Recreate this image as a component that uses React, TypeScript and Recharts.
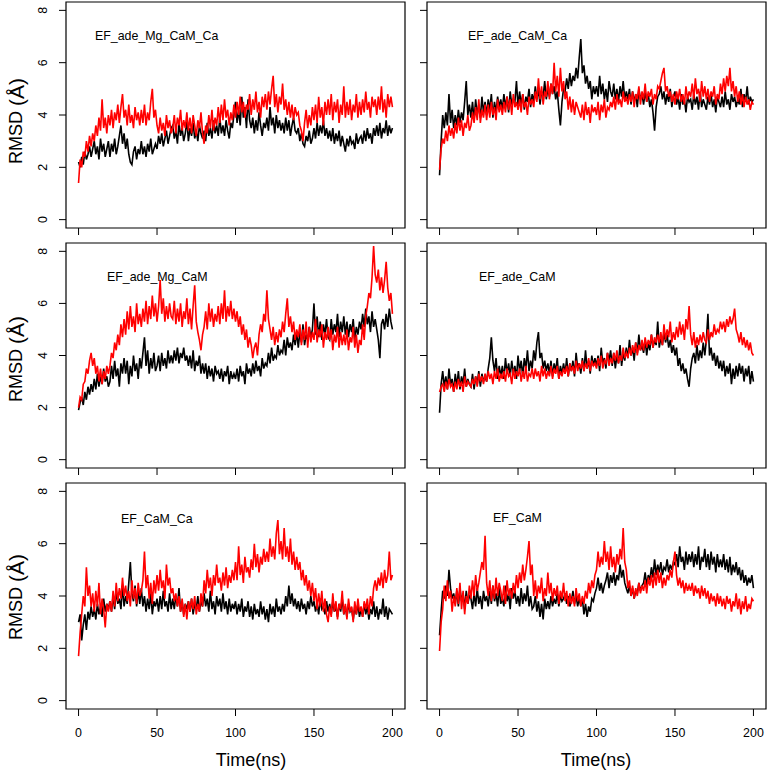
import React from 'react'
import { LineChart, Line, XAxis, YAxis, ReferenceArea } from 'recharts'

// RMSD traces, one value per ns from 0 to 200 ns
const STEP_NS = 1
const xTicks = [0, 50, 100, 150, 200]
const yTicks = [0, 2, 4, 6, 8]
const panelNames = ['EF_ade_Mg_CaM_Ca', 'EF_ade_CaM_Ca', 'EF_ade_Mg_CaM', 'EF_ade_CaM', 'EF_CaM_Ca', 'EF_CaM']

const adeMgCaMCaBlack = [
  2.2, 2.0, 2.4, 2.1, 2.6, 2.3, 2.5, 2.8, 2.4, 2.7,
  3.0, 2.5, 2.8, 2.3, 3.1, 2.6, 2.9, 2.4, 2.7, 3.0,
  2.4, 2.9, 2.6, 3.1, 2.5, 2.8, 3.2, 3.6, 2.9, 3.3,
  2.7, 3.1, 2.5, 2.2, 2.1, 2.6, 2.8, 2.3, 2.7, 2.5,
  3.0, 2.5, 2.8, 2.4, 2.9, 2.6, 3.1, 2.5, 2.7, 2.9,
  2.7, 3.2, 2.9, 3.3, 2.8, 3.1, 3.4, 2.9, 3.2, 3.5,
  3.6, 3.1, 3.4, 2.9, 3.7, 3.2, 3.5, 3.0, 3.3, 3.8,
  3.0, 3.5, 3.2, 3.7, 3.1, 3.4, 3.0, 3.6, 3.3, 3.1,
  3.4, 3.0, 3.7, 3.2, 3.5, 3.1, 3.8, 3.3, 3.6, 3.2,
  3.9, 3.3, 3.6, 3.2, 3.8, 3.4, 3.1, 3.7, 3.5, 4.0,
  4.5, 3.7, 4.2, 3.6, 4.7, 3.9, 4.3, 3.5, 4.6, 3.8,
  3.5, 3.9, 3.3, 3.8, 3.4, 4.1, 3.6, 3.2, 3.7, 3.5,
  3.9, 3.4, 4.3, 3.6, 3.9, 3.3, 4.0, 3.5, 3.8, 3.4,
  3.7, 3.3, 3.9, 3.4, 3.8, 3.2, 3.6, 3.9, 3.4, 3.3,
  3.5, 3.0, 3.3, 2.9, 2.8, 3.2, 3.0, 3.4, 2.9, 3.1,
  3.5, 3.1, 3.7, 3.2, 3.6, 3.3, 3.8, 3.2, 3.5, 3.1,
  3.4, 3.0, 3.5, 2.9, 3.3, 3.0, 3.4, 2.8, 3.2, 2.9,
  2.6, 3.1, 2.8, 3.2, 2.9, 3.0, 2.7, 3.3, 2.9, 3.1,
  3.2, 2.9, 3.4, 3.0, 3.5, 3.1, 3.3, 2.9, 3.5, 3.2,
  3.6, 3.2, 3.7, 3.1, 3.5, 3.3, 3.8, 3.2, 3.6, 3.3,
  3.5,
]
const adeMgCaMCaRed = [
  1.4, 2.3, 2.0, 2.6, 2.4, 3.0, 2.6, 3.2, 2.8, 3.3,
  3.0, 3.6, 3.2, 3.9, 3.4, 4.6, 3.5, 3.9, 3.3, 4.0,
  3.6, 4.2, 3.5, 4.1, 3.8, 4.4, 3.7, 4.3, 4.8, 3.9,
  4.2, 3.6, 4.4, 3.7, 4.0, 3.5, 4.3, 3.8, 4.1, 3.6,
  4.2, 3.7, 4.4, 3.6, 4.1, 3.8, 4.5, 5.0, 3.9, 4.2,
  3.6, 3.3, 3.9, 3.4, 3.7, 3.2, 4.0, 3.5, 3.8, 3.3,
  3.5, 4.0, 3.3, 3.9, 3.6, 4.2, 3.4, 3.8, 3.5, 4.1,
  3.4, 3.9, 3.3, 4.0, 3.6, 3.2, 3.8, 3.5, 4.1, 3.3,
  2.9, 3.6, 3.3, 4.0, 3.5, 4.2, 3.4, 3.9, 3.6, 4.3,
  3.7, 4.4, 3.8, 4.6, 3.9, 4.2, 3.6, 4.1, 3.8, 4.4,
  3.9, 4.5, 4.0, 4.7, 4.1, 4.5, 3.9, 4.4, 4.2, 4.8,
  4.0, 4.6, 4.2, 4.9, 4.1, 4.5, 3.9, 4.7, 4.3, 4.8,
  4.2, 4.9, 4.4, 5.0, 5.5, 4.3, 4.8, 4.1, 4.7, 4.4,
  5.2, 4.2, 4.6, 4.0, 4.5, 3.9, 4.4, 3.8, 4.3, 4.0,
  4.1, 3.6, 3.4, 3.0, 3.7, 4.2, 3.5, 4.0, 3.6, 4.3,
  3.8, 4.4, 3.7, 4.7, 3.9, 4.3, 3.6, 4.5, 4.0, 4.6,
  4.0, 4.8, 3.8, 4.5, 4.1, 4.6, 3.7, 4.4, 4.0, 5.1,
  3.9, 4.5, 4.0, 4.6, 3.8, 4.4, 4.1, 4.8, 3.9, 4.5,
  4.0, 4.6, 4.1, 4.9, 4.2, 4.5, 3.9, 4.7, 4.3, 4.6,
  4.0, 4.7, 4.2, 5.1, 4.1, 4.6, 3.9, 4.8, 4.3, 4.7,
  4.3,
]

const adeCaMCaBlack = [
  1.7, 3.0, 4.0, 3.5, 4.1, 3.6, 4.8, 3.7, 4.2, 3.5,
  4.0, 3.6, 4.2, 3.7, 4.1, 3.8, 4.5, 5.3, 4.0, 4.4,
  3.9, 4.5, 3.8, 4.6, 4.0, 4.4, 3.9, 4.7, 4.1, 4.5,
  4.0, 4.6, 4.2, 4.8, 3.9, 4.5, 4.1, 4.7, 4.3, 4.6,
  4.2, 4.8, 4.3, 4.7, 4.1, 4.9, 4.4, 4.6, 4.5, 5.3,
  4.3, 4.9, 4.4, 4.8, 4.2, 4.7, 4.5, 5.0, 4.3, 4.8,
  4.5, 5.1, 4.6, 5.0, 4.4, 4.9, 4.7, 5.3, 4.6, 5.0,
  4.7, 5.2, 4.8, 5.1, 4.6, 4.9, 4.2, 3.6, 4.5, 5.0,
  4.9, 5.4, 5.0, 5.6, 5.1, 5.5, 5.3, 5.8, 5.4, 6.2,
  6.9, 5.6, 5.9, 5.2, 5.5, 5.0, 5.3, 4.6, 5.1, 4.8,
  5.1, 4.7, 5.5, 4.8, 5.2, 4.6, 5.0, 4.5, 5.3, 4.9,
  4.7, 5.2, 4.6, 5.0, 4.5, 5.1, 4.7, 5.3, 4.6, 4.9,
  4.6, 5.0, 4.4, 4.9, 4.5, 4.8, 4.3, 5.0, 4.6, 4.8,
  4.4, 4.9, 4.5, 4.8, 4.3, 4.6, 4.1, 3.4, 4.3, 4.7,
  4.8, 5.1, 4.6, 4.9, 4.4, 4.8, 4.5, 5.0, 4.3, 4.7,
  4.9, 4.4, 4.7, 4.2, 4.8, 4.4, 4.6, 4.1, 4.7, 4.5,
  4.6, 4.2, 4.8, 4.4, 4.7, 4.2, 4.9, 4.3, 4.6, 4.4,
  4.2, 4.7, 4.4, 4.8, 4.3, 4.6, 4.1, 4.7, 4.5, 4.3,
  4.7, 4.3, 4.9, 4.4, 4.6, 4.2, 4.8, 4.5, 4.7, 4.3,
  4.6, 4.4, 5.0, 4.3, 4.8, 4.5, 5.1, 4.4, 4.7, 4.5,
  4.6,
]
const adeCaMCaRed = [
  1.9, 2.7, 3.1, 2.9, 3.4, 3.0, 3.6, 3.2, 3.5, 3.1,
  3.7, 3.3, 3.9, 3.4, 3.8, 3.2, 3.7, 3.5, 4.0, 3.4,
  3.6, 4.1, 3.7, 4.3, 3.8, 4.6, 3.7, 4.2, 3.9, 4.4,
  3.8, 4.4, 3.9, 4.5, 4.0, 4.3, 3.8, 4.6, 4.1, 4.4,
  4.0, 4.5, 4.1, 4.7, 4.2, 4.6, 4.0, 4.8, 4.3, 4.5,
  4.2, 4.6, 4.1, 4.8, 4.3, 4.5, 4.0, 4.7, 4.4, 4.6,
  4.3, 4.9, 4.5, 5.4, 4.6, 5.1, 4.4, 4.9, 4.7, 5.3,
  4.6, 5.2, 4.8, 6.0, 4.9, 5.5, 4.7, 5.8, 4.9, 5.3,
  4.6, 4.9, 4.2, 4.7, 4.1, 4.6, 4.0, 4.5, 4.3, 4.1,
  3.9, 4.4, 3.8, 4.5, 4.0, 4.3, 3.7, 4.4, 4.1, 4.3,
  4.0, 4.5, 3.8, 4.4, 4.1, 4.6, 3.9, 4.3, 4.2, 4.5,
  4.3, 4.7, 4.2, 4.8, 4.4, 4.6, 4.3, 4.9, 4.5, 4.7,
  4.4, 4.8, 4.5, 4.9, 4.3, 4.8, 4.6, 5.1, 4.4, 4.9,
  4.6, 5.2, 4.5, 4.9, 4.7, 5.0, 4.4, 4.8, 4.6, 5.1,
  5.0, 5.3, 5.6, 5.8, 4.9, 5.1, 4.7, 4.9, 4.5, 4.8,
  4.4, 4.9, 4.6, 5.0, 4.5, 4.8, 4.4, 5.1, 4.6, 4.9,
  4.7, 5.2, 4.6, 5.4, 4.8, 5.0, 4.5, 5.3, 4.7, 5.1,
  4.6, 5.0, 4.5, 4.9, 4.7, 5.1, 4.4, 4.8, 4.6, 5.2,
  4.8, 5.4, 4.9, 5.5, 5.1, 5.8, 4.9, 5.3, 4.7, 5.1,
  4.5, 4.9, 4.4, 4.8, 4.3, 4.7, 4.4, 4.6, 4.2, 4.5,
  4.4,
]

const adeMgCaMBlack = [
  1.9, 2.2, 2.4, 2.1, 2.6, 2.3, 2.8, 2.5, 2.9, 2.6,
  3.1, 2.7, 3.3, 2.8, 3.2, 2.9, 3.5, 3.0, 3.2, 2.8,
  3.0, 3.6, 3.1, 3.8, 3.2, 3.5, 2.8, 3.7, 3.3, 3.9,
  3.3, 3.8, 2.9, 3.6, 3.2, 4.0, 3.4, 3.7, 3.1, 3.9,
  3.5, 4.1, 4.7, 3.6, 4.2, 3.3, 3.9, 3.5, 4.1, 3.4,
  3.6, 4.0, 3.4, 4.1, 3.6, 3.9, 3.5, 4.2, 3.7, 4.0,
  3.7, 4.2, 3.8, 4.3, 3.7, 4.1, 3.9, 4.3, 3.8, 4.0,
  3.6, 4.0, 3.5, 4.2, 3.4, 3.8, 3.6, 4.0, 3.3, 3.7,
  3.3, 3.7, 3.1, 3.6, 3.2, 3.5, 3.0, 3.6, 3.3, 3.4,
  3.1, 3.5, 3.0, 3.4, 3.2, 3.6, 2.9, 3.4, 3.1, 3.3,
  3.1, 3.5, 3.0, 3.6, 3.2, 3.4, 2.9, 3.7, 3.3, 3.5,
  3.2, 3.7, 3.3, 3.8, 3.4, 3.6, 3.2, 3.9, 3.5, 3.7,
  3.6, 4.1, 3.7, 4.3, 3.8, 4.0, 3.9, 4.4, 4.0, 4.2,
  4.1, 4.6, 4.0, 4.7, 4.3, 4.5, 4.2, 4.8, 4.4, 4.9,
  4.3, 4.9, 4.5, 5.2, 4.4, 4.8, 4.6, 5.1, 4.7, 5.0,
  6.0, 4.8, 5.5, 4.7, 5.3, 4.6, 5.2, 4.8, 5.4, 4.7,
  4.6, 5.4, 4.8, 5.2, 4.9, 5.6, 4.7, 5.3, 4.9, 5.5,
  4.8, 5.3, 4.7, 5.2, 4.9, 5.4, 4.6, 5.1, 4.8, 5.3,
  5.0, 5.6, 5.1, 5.8, 5.2, 5.5, 4.9, 5.7, 5.1, 5.4,
  5.0, 4.6, 3.9, 5.2, 5.4, 5.0, 5.6, 5.1, 5.8, 5.3,
  5.0,
]
const adeMgCaMRed = [
  2.0, 2.4, 2.3, 2.9, 3.0, 3.5, 3.3, 3.8, 4.1, 3.6,
  3.9, 3.3, 3.6, 3.0, 3.5, 2.9, 3.4, 3.1, 3.6, 3.3,
  3.6, 4.1, 3.9, 4.5, 4.2, 4.8, 4.4, 5.2, 4.7, 5.4,
  4.8, 5.7, 5.0, 5.9, 5.1, 5.5, 4.9, 6.0, 5.2, 5.6,
  5.1, 5.8, 5.3, 6.1, 5.2, 5.9, 5.4, 6.3, 5.5, 6.0,
  5.3, 5.9, 6.9, 5.6, 6.2, 5.3, 5.9, 5.4, 6.0, 5.5,
  5.4, 6.1, 5.2, 5.8, 5.3, 6.0, 5.1, 5.7, 5.4, 6.2,
  5.2, 5.8, 5.0, 5.9, 6.7, 5.3, 4.9, 4.6, 4.2, 4.8,
  5.1, 5.7, 5.0, 6.0, 5.3, 5.8, 5.1, 5.6, 5.3, 5.9,
  5.2, 6.0, 5.4, 6.5, 5.3, 5.9, 5.5, 6.1, 5.4, 5.8,
  5.3, 5.7, 5.1, 5.5, 4.8, 5.2, 4.6, 5.0, 4.3, 4.7,
  4.4, 3.9, 4.3, 4.5, 4.0, 4.8, 5.2, 4.9, 5.6, 5.3,
  6.5, 5.4, 5.0, 4.6, 5.1, 4.4, 4.9, 4.5, 5.0, 4.7,
  5.3, 4.9, 5.6, 6.2, 5.1, 5.5, 4.9, 5.3, 4.6, 5.0,
  4.7, 5.2, 4.4, 5.0, 4.6, 5.3, 4.3, 5.1, 4.5, 4.9,
  4.6, 5.4, 4.5, 5.0, 4.7, 5.2, 4.3, 4.9, 4.6, 5.1,
  4.6, 5.0, 4.2, 4.8, 4.5, 5.1, 4.3, 4.9, 4.4, 4.8,
  4.4, 5.0, 4.2, 4.7, 4.5, 5.1, 4.3, 4.8, 4.1, 4.6,
  4.4, 5.2, 4.6, 5.5, 5.9, 6.4, 6.2, 7.0, 8.2, 7.1,
  6.8, 7.3, 6.5, 7.0, 6.4, 6.9, 7.6, 6.6, 6.1, 6.4,
  5.6,
]

const adeCaMBlack = [
  1.8, 2.9, 3.4, 2.8, 3.2, 2.7, 3.5, 2.9, 3.1, 2.6,
  3.3, 2.8, 3.4, 2.7, 3.2, 2.9, 3.5, 2.8, 3.1, 2.9,
  2.8, 3.3, 2.7, 3.2, 2.9, 3.4, 2.8, 3.3, 3.0, 3.2,
  3.0, 3.5, 3.9, 4.7, 3.8, 3.4, 3.9, 3.1, 3.6, 3.2,
  3.6, 3.1, 3.9, 3.3, 3.7, 3.2, 3.8, 3.3, 3.6, 3.1,
  4.0, 3.4, 3.8, 3.2, 3.9, 3.5, 4.2, 3.4, 3.8, 3.5,
  4.2, 3.8, 4.5, 4.9, 3.9, 4.1, 3.5, 3.8, 3.4, 3.7,
  3.3, 3.8, 3.2, 3.7, 3.4, 3.9, 3.1, 3.6, 3.3, 3.7,
  3.3, 3.9, 3.2, 3.7, 3.4, 3.8, 3.2, 4.1, 3.5, 3.7,
  3.3, 3.9, 3.4, 4.2, 3.5, 3.8, 3.3, 4.0, 3.6, 3.9,
  3.6, 4.0, 3.4, 4.3, 3.7, 3.9, 3.5, 4.1, 3.8, 4.2,
  3.6, 4.1, 3.5, 4.0, 3.7, 4.4, 3.6, 4.1, 3.8, 4.3,
  3.9, 4.6, 4.0, 4.3, 3.8, 4.5, 4.1, 4.8, 4.2, 4.4,
  4.1, 4.6, 4.0, 4.5, 4.2, 4.8, 4.3, 4.6, 4.4, 5.3,
  4.3, 4.7, 4.4, 4.9, 4.5, 4.8, 4.3, 4.6, 4.1, 4.4,
  4.0, 4.3, 3.6, 3.9, 3.4, 3.7, 3.3, 3.5, 3.1, 2.8,
  3.5, 3.9, 4.1, 3.7, 4.4, 3.8, 4.2, 3.9, 4.5, 4.0,
  4.6, 5.6, 4.0, 4.3, 3.8, 4.1, 3.6, 4.0, 3.5, 3.8,
  3.4, 3.8, 3.2, 3.6, 3.3, 3.7, 2.9, 3.5, 3.1, 3.6,
  3.2, 3.7, 3.3, 3.6, 3.0, 3.5, 3.2, 3.6, 2.9, 3.4,
  3.0,
]
const adeCaMRed = [
  2.6, 2.8, 2.9, 2.6, 3.0, 2.7, 3.1, 2.8, 2.9, 2.6,
  3.0, 2.7, 3.1, 2.8, 3.0, 2.6, 3.2, 2.8, 3.0, 2.9,
  2.8, 3.1, 2.9, 3.2, 2.8, 3.3, 3.0, 3.2, 2.9, 3.3,
  3.0, 3.4, 3.1, 3.3, 2.9, 3.4, 3.1, 3.5, 3.0, 3.3,
  3.1, 3.4, 3.0, 3.5, 3.2, 3.3, 2.9, 3.5, 3.1, 3.4,
  3.2, 3.5, 3.0, 3.4, 3.1, 3.6, 3.0, 3.3, 3.2, 3.5,
  3.1, 3.5, 3.2, 3.4, 3.0, 3.6, 3.2, 3.5, 3.1, 3.4,
  3.2, 3.6, 3.1, 3.5, 3.3, 3.6, 3.1, 3.4, 3.2, 3.5,
  3.3, 3.6, 3.2, 3.7, 3.4, 3.6, 3.3, 3.8, 3.4, 3.7,
  3.5, 3.8, 3.4, 3.7, 3.5, 3.9, 3.4, 3.8, 3.6, 3.7,
  3.5, 3.9, 3.6, 4.0, 3.5, 3.8, 3.7, 4.1, 3.6, 3.9,
  3.7, 4.1, 3.8, 4.2, 3.7, 4.0, 3.8, 4.3, 3.9, 4.1,
  3.9, 4.3, 4.0, 4.4, 4.1, 4.5, 4.0, 4.4, 4.2, 4.6,
  4.2, 4.7, 4.3, 4.6, 4.4, 4.8, 4.3, 4.7, 4.5, 4.8,
  4.5, 4.9, 4.4, 5.2, 4.6, 5.0, 4.7, 5.3, 4.5, 4.9,
  4.6, 5.1, 4.7, 5.3, 4.8, 5.2, 4.6, 5.4, 5.0, 5.9,
  4.8, 4.4, 4.9, 4.3, 4.7, 4.4, 4.8, 4.5, 4.9, 4.6,
  4.5, 5.0, 4.6, 4.9, 4.7, 5.2, 4.8, 5.0, 4.9, 5.3,
  5.0, 5.3, 4.9, 5.4, 5.1, 5.5, 5.2, 5.4, 5.8, 5.0,
  4.8, 4.5, 4.9, 4.4, 4.7, 4.3, 4.6, 4.2, 4.5, 4.1,
  4.0,
]

const caMCaBlack = [
  3.0, 3.3, 2.3, 2.9, 3.3, 2.7, 3.4, 3.1, 3.6, 3.2,
  3.5, 3.1, 3.7, 3.3, 3.6, 3.2, 3.9, 3.4, 3.7, 3.5,
  3.8, 3.4, 4.0, 3.5, 4.2, 3.7, 3.9, 3.5, 4.4, 3.6,
  4.0, 3.7, 4.5, 5.3, 4.1, 3.8, 4.4, 3.6, 4.2, 3.7,
  4.3, 3.6, 4.0, 3.4, 3.9, 3.5, 4.1, 3.3, 3.8, 3.6,
  3.9, 3.4, 4.0, 3.5, 4.2, 3.6, 3.8, 3.4, 4.1, 3.5,
  3.9, 3.5, 4.0, 3.6, 4.3, 3.4, 3.8, 3.3, 3.7, 3.5,
  3.8, 3.4, 3.9, 3.3, 3.7, 3.5, 4.0, 3.4, 3.8, 3.6,
  4.1, 3.6, 3.9, 3.4, 4.2, 3.5, 3.8, 3.3, 4.0, 3.6,
  3.9, 3.4, 4.1, 3.5, 3.8, 3.3, 3.9, 3.4, 3.7, 3.5,
  3.8, 3.3, 3.7, 3.4, 3.9, 3.2, 3.6, 3.4, 3.8, 3.2,
  3.6, 3.1, 3.7, 3.3, 3.5, 3.2, 3.8, 3.3, 3.6, 3.1,
  3.5, 3.0, 3.7, 3.3, 3.6, 3.2, 3.9, 3.4, 3.6, 3.3,
  3.7, 3.4, 4.0, 3.6, 4.4, 3.7, 4.1, 3.6, 3.9, 3.5,
  3.8, 3.4, 3.9, 3.5, 3.7, 3.3, 3.8, 3.5, 4.0, 3.6,
  3.8, 3.4, 3.7, 3.3, 3.9, 3.5, 3.6, 3.3, 3.8, 3.4,
  3.7, 3.3, 3.8, 3.4, 3.6, 3.2, 3.7, 3.4, 3.9, 3.3,
  3.6, 3.2, 3.7, 3.4, 3.5, 3.1, 3.6, 3.3, 3.7, 3.2,
  3.5, 3.2, 3.7, 3.3, 3.6, 3.1, 3.5, 3.3, 3.8, 3.2,
  3.6, 3.1, 3.5, 3.3, 3.9, 3.2, 3.6, 3.1, 3.5, 3.4,
  3.3,
]
const caMCaRed = [
  1.7, 2.6, 3.3, 4.0, 3.6, 5.1, 4.0, 4.4, 3.6, 4.1,
  3.4, 4.2, 3.6, 4.5, 3.3, 3.9, 3.5, 2.8, 3.7, 3.4,
  3.8, 3.4, 4.2, 3.6, 4.5, 3.8, 4.3, 3.9, 4.7, 4.0,
  4.4, 3.8, 4.2, 3.6, 4.6, 3.9, 4.3, 3.7, 4.5, 4.0,
  4.2, 4.6, 5.7, 4.3, 4.8, 3.9, 4.5, 3.7, 4.6, 4.1,
  4.8, 4.2, 5.0, 4.3, 4.6, 3.9, 5.2, 4.4, 4.7, 4.1,
  4.3, 3.8, 4.1, 3.6, 4.0, 3.4, 3.9, 3.2, 3.7, 3.1,
  3.8, 3.4, 3.9, 3.5, 4.0, 3.3, 3.7, 3.4, 4.1, 3.6,
  4.6, 4.1, 5.0, 4.3, 4.7, 4.0, 4.8, 4.4, 5.2, 4.5,
  4.7, 4.2, 4.9, 4.4, 5.1, 4.3, 4.8, 4.5, 5.0, 4.6,
  5.3, 4.6, 5.9, 4.8, 5.2, 4.5, 5.5, 4.9, 5.1, 4.7,
  5.4, 5.0, 6.0, 5.1, 5.6, 4.9, 5.5, 5.2, 5.8, 5.3,
  5.7, 5.3, 6.2, 5.5, 5.9, 5.4, 6.4, 6.9, 5.6, 6.1,
  5.4, 6.6, 5.5, 5.9, 5.3, 6.2, 5.2, 5.7, 5.0, 5.5,
  5.0, 5.3, 4.6, 5.0, 4.4, 4.8, 4.2, 4.6, 4.0, 4.5,
  3.8, 4.3, 3.5, 4.1, 3.6, 4.2, 3.4, 3.9, 3.3, 3.0,
  3.6, 3.2, 4.1, 3.4, 3.8, 3.1, 3.7, 3.5, 4.2, 3.3,
  3.7, 3.1, 3.9, 3.4, 3.6, 3.0, 3.8, 3.3, 3.9, 3.4,
  3.6, 3.2, 3.8, 3.5, 3.9, 3.3, 4.0, 3.6, 4.3, 4.6,
  4.2, 4.7, 4.4, 4.9, 4.3, 5.0, 4.5, 4.8, 5.7, 4.6,
  4.8,
]

const caMBlack = [
  2.5, 3.4, 4.2, 3.9, 4.4, 4.0, 5.0, 4.3, 3.9, 4.1,
  3.7, 4.2, 3.6, 4.3, 3.8, 4.1, 3.5, 4.2, 3.7, 4.0,
  3.9, 3.5, 4.1, 3.6, 4.3, 3.7, 4.0, 3.5, 4.2, 3.8,
  4.0, 3.6, 4.2, 3.7, 4.4, 3.8, 4.1, 3.6, 4.3, 3.7,
  3.9, 3.6, 4.4, 3.8, 4.1, 3.5, 4.3, 3.9, 4.2, 3.7,
  4.0, 3.6, 4.3, 3.7, 4.1, 3.8, 4.4, 3.6, 4.0, 3.5,
  3.6, 4.0, 3.4, 3.8, 3.2, 3.7, 3.1, 3.9, 3.5, 3.8,
  3.5, 4.0, 3.6, 3.9, 3.7, 4.1, 3.6, 4.0, 3.8, 3.9,
  4.1, 3.7, 4.0, 3.6, 3.8, 4.2, 3.7, 4.0, 3.6, 3.9,
  3.6, 3.9, 3.3, 3.7, 3.2, 3.6, 3.4, 3.9, 3.8, 4.1,
  4.3, 4.7, 4.2, 4.5, 4.1, 4.4, 4.6, 4.9, 4.3, 4.8,
  4.5, 4.9, 4.4, 4.8, 4.6, 5.2, 4.7, 5.0, 4.5, 4.3,
  4.1, 4.4, 4.0, 4.3, 3.9, 4.2, 4.1, 4.5, 4.2, 4.4,
  4.5, 4.9, 4.4, 4.8, 4.6, 5.1, 4.7, 5.4, 4.8, 5.2,
  4.9, 5.3, 4.8, 5.1, 5.0, 5.4, 4.9, 5.2, 5.0, 5.3,
  5.2, 5.6, 5.1, 5.9, 5.3, 5.5, 5.0, 5.7, 5.2, 5.6,
  5.3, 5.7, 5.1, 5.6, 5.2, 5.9, 5.0, 5.5, 5.3, 5.8,
  5.1, 5.6, 5.0, 5.7, 5.2, 5.5, 4.9, 5.6, 5.1, 5.4,
  5.1, 5.6, 5.0, 5.4, 4.9, 5.5, 4.8, 5.2, 4.9, 5.3,
  4.8, 5.1, 4.6, 5.0, 4.5, 4.8, 4.4, 4.7, 4.5, 4.8,
  4.3,
]
const caMRed = [
  1.9, 3.0, 3.5, 4.4, 3.8, 4.6, 3.9, 4.2, 3.4, 4.0,
  3.6, 4.3, 3.7, 4.5, 3.5, 4.2, 3.3, 4.0, 3.7, 4.4,
  3.9, 4.6, 4.0, 4.8, 4.2, 4.5, 4.9, 5.3, 5.0, 6.3,
  4.5, 4.0, 4.6, 3.8, 4.4, 3.9, 4.7, 4.0, 4.5, 4.2,
  3.8, 4.4, 3.7, 4.6, 4.0, 4.3, 3.9, 4.5, 4.1, 4.8,
  4.3, 4.9, 4.5, 5.2, 4.6, 5.0, 5.5, 6.1, 4.8, 5.2,
  4.0, 4.6, 3.9, 4.4, 4.1, 4.7, 3.8, 4.3, 4.0, 4.9,
  4.1, 4.5, 3.8, 4.3, 4.0, 4.4, 3.7, 4.2, 3.9, 4.5,
  3.8, 4.2, 3.6, 4.1, 3.7, 4.0, 3.6, 4.3, 3.8, 4.1,
  3.6, 4.0, 3.7, 4.2, 3.9, 4.5, 4.1, 4.6, 4.3, 4.8,
  5.0, 5.7, 5.1, 5.5, 5.2, 6.1, 5.3, 5.7, 5.0, 5.9,
  5.1, 5.5, 4.9, 5.6, 5.2, 5.8, 5.4, 6.6, 5.3, 5.0,
  4.3, 4.6, 4.0, 4.4, 3.9, 4.3, 4.0, 4.5, 4.1, 4.4,
  4.2, 4.6, 4.1, 4.7, 4.4, 4.8, 4.3, 4.9, 4.4, 5.0,
  4.5, 4.9, 4.3, 4.7, 4.4, 4.8, 4.6, 5.0, 4.7, 5.3,
  5.7, 4.8, 4.4, 4.7, 4.3, 4.6, 4.1, 4.5, 4.2, 4.4,
  4.2, 4.5, 4.0, 4.4, 4.1, 4.3, 3.9, 4.4, 4.0, 4.3,
  3.9, 4.2, 3.7, 4.1, 3.8, 4.0, 3.6, 4.1, 3.7, 4.0,
  3.6, 3.9, 3.5, 4.0, 3.7, 3.9, 3.4, 3.8, 3.6, 4.1,
  3.5, 3.9, 3.3, 3.8, 3.5, 4.0, 3.4, 3.7, 3.5, 3.9,
  3.8,
]

const seriesBlack = [adeMgCaMCaBlack, adeCaMCaBlack, adeMgCaMBlack, adeCaMBlack, caMCaBlack, caMBlack]
const seriesRed = [adeMgCaMCaRed, adeCaMCaRed, adeMgCaMRed, adeCaMRed, caMCaRed, caMRed]

// layout of the 3x2 grid (plot box in page pixels)
const COL_LEFT = [66, 427]
const ROW_TOP = [2, 243, 483]
const ROW_H = [226, 225, 226]
const BOX_W = 339
const AXIS_LEFT = 60
const LABEL_POS = [
  [95, 36], [468, 36],
  [107, 277], [479, 277],
  [121, 519], [493, 518],
]

const FONT = '"Liberation Sans", Arial, Helvetica, sans-serif'

function Panel({ idx }: { idx: number }) {
  const col = idx % 2
  const row = Math.floor(idx / 2)
  const isLeft = col === 0
  const isBottom = row === 2
  const black = seriesBlack[idx]
  const red = seriesRed[idx]
  const data = black.map((v, i) => ({ t: i * STEP_NS, black: v, red: red[i] }))
  const xAxisH = isBottom ? 40 : 9
  const h = ROW_H[row]

  const yTick = (p: any) => {
    if (!isLeft) return <g />
    const cx = p.x - 14
    return (
      <text x={cx} y={p.y} transform={`rotate(-90 ${cx} ${p.y})`} textAnchor="middle"
        dominantBaseline="central" fontSize={12.4} fill="#000" fontFamily={FONT}>
        {p.payload.value}
      </text>
    )
  }
  const xTick = (p: any) => {
    if (!isBottom) return <g />
    return (
      <text x={p.x} y={p.y + 18.5} textAnchor="middle" fontSize={12.4} fill="#000" fontFamily={FONT}>
        {p.payload.value}
      </text>
    )
  }

  return (
    <div style={{ position: 'absolute', left: COL_LEFT[col] - AXIS_LEFT, top: ROW_TOP[row] - 2 }}>
      <LineChart width={AXIS_LEFT + BOX_W + 3} height={2 + h + xAxisH} data={data}
        margin={{ top: 2, right: 3, bottom: 0, left: 20 }}>
        <XAxis dataKey="t" type="number" domain={[-8, 208]} ticks={xTicks} allowDataOverflow
          axisLine={false} tickSize={7} tickLine={{ stroke: '#000' }} tick={xTick} height={xAxisH} interval={0} />
        <YAxis type="number" domain={[-0.32, 8.32]} ticks={yTicks} allowDataOverflow
          axisLine={false} tickSize={7} tickLine={{ stroke: '#000' }} tick={yTick} width={40} interval={0} />
        <Line type="linear" dataKey="black" stroke="#000000" strokeWidth={1.6} dot={false} isAnimationActive={false} />
        <Line type="linear" dataKey="red" stroke="#ff0000" strokeWidth={1.6} dot={false} isAnimationActive={false} />
        <ReferenceArea x1={-8} x2={208} y1={-0.32} y2={8.32} fill="none" stroke="#000" strokeWidth={1.2} ifOverflow="visible" />
      </LineChart>
    </div>
  )
}

export default function App() {
  return (
    <div style={{ position: 'absolute', left: 0, top: 0, width: 768, height: 771, background: '#fff', fontFamily: FONT }}>
      {panelNames.map((_, i) => <Panel key={i} idx={i} />)}
      <svg width={768} height={771} style={{ position: 'absolute', left: 0, top: 0, pointerEvents: 'none' }}>
        {[121, 359, 597].map((cy, i) => (
          <text key={i} x={16} y={cy} transform={`rotate(-90 16 ${cy})`} textAnchor="middle"
            dominantBaseline="central" fontSize={18} fontFamily={FONT} fill="#000">
            RMSD <tspan fontSize={21}>(Å)</tspan>
          </text>
        ))}
        <text x={251} y={766} textAnchor="middle" fontSize={18} fontFamily={FONT} fill="#000">Time(ns)</text>
        <text x={596} y={766} textAnchor="middle" fontSize={18} fontFamily={FONT} fill="#000">Time(ns)</text>
        {panelNames.map((name, i) => (
          <text key={name} x={LABEL_POS[i][0]} y={LABEL_POS[i][1]} dominantBaseline="central"
            fontSize={12.4} fontFamily={FONT} fill="#000">{name}</text>
        ))}
      </svg>
    </div>
  )
}
